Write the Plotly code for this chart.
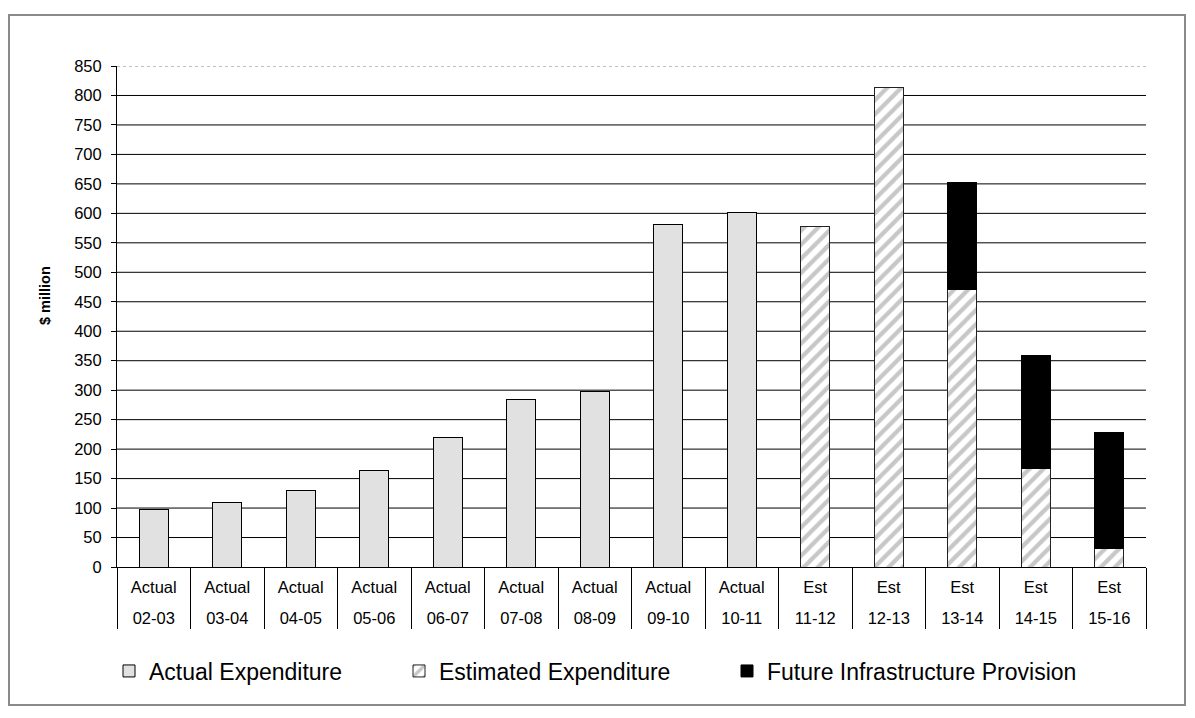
import plotly.graph_objects as go

# Financial years and expenditure type for each bar
years = ["02-03", "03-04", "04-05", "05-06", "06-07", "07-08", "08-09",
         "09-10", "10-11", "11-12", "12-13", "13-14", "14-15", "15-16"]
kinds = ["Actual"] * 9 + ["Est"] * 5

# $ million
actual = [98, 110, 129, 164, 220, 284, 298, 581, 602,
          None, None, None, None, None]
estimated = [None] * 9 + [577, 814, 471, 167, 31]
future = [None] * 11 + [181, 191, 198]

y_ticks = list(range(0, 851, 50))

FONT = "Liberation Sans"
W, H = 1195, 718
L, R, T, B = 117, 49, 66, 151
PW, PH = W - L - R, H - T - B


def px_x(px):
    return (px - L) / PW


def px_y(py):
    return (H - B - py) / PH


fig = go.Figure()
fig.add_trace(go.Bar(
    name="Actual Expenditure", x=years, y=actual,
    marker=dict(color="#e1e1e1", line=dict(color="black", width=1)),
    legend="legend",
))
fig.add_trace(go.Bar(
    name="Estimated Expenditure", x=years, y=estimated,
    marker=dict(color="white",
                pattern=dict(shape="/", fgcolor="#8f8f8f", bgcolor="white",
                             size=10, solidity=0.42),
                line=dict(color="#222222", width=1)),
    legend="legend2",
))
fig.add_trace(go.Bar(
    name="Future Infrastructure Provision", x=years, y=future,
    marker=dict(color="black", line=dict(color="black", width=1)),
    legend="legend3",
))
# empty trace that attaches the year-label axis to the plot
fig.add_trace(go.Scatter(x=[None], y=[None], xaxis="x2", yaxis="y",
                         mode="markers", showlegend=False, hoverinfo="skip"))

# horizontal gridlines; the top one is dotted
shapes = []
for v in y_ticks[1:-1]:
    shapes.append(dict(type="line", xref="paper", x0=0, x1=1, yref="y",
                       y0=v, y1=v, line=dict(color="black", width=1),
                       layer="below"))
shapes.append(dict(type="line", xref="paper", x0=0, x1=1, yref="y",
                   y0=y_ticks[-1], y1=y_ticks[-1],
                   line=dict(color="#808080", width=1, dash="dot"),
                   layer="below"))
# outer chart frame
shapes.append(dict(type="rect", xref="paper", yref="paper",
                   x0=px_x(9), x1=px_x(1185), y0=px_y(705), y1=px_y(15),
                   line=dict(color="#8a8a8a", width=2), layer="below"))

legend_common = dict(orientation="h", yanchor="middle", y=px_y(671),
                     xanchor="left", font=dict(family=FONT, size=23, color="black"),
                     itemwidth=30, bgcolor="rgba(0,0,0,0)")

n = len(years)
fig.update_layout(
    width=W, height=H, autosize=False,
    margin=dict(l=L, r=R, t=T, b=B),
    paper_bgcolor="white", plot_bgcolor="white",
    barmode="stack", bargap=0.605,
    font=dict(family=FONT, color="black"),
    shapes=shapes,
    showlegend=True,
    # upper label row: expenditure type
    xaxis=dict(type="category", categoryorder="array", categoryarray=years,
               range=[-0.5, n - 0.5], showline=True, linecolor="black",
               linewidth=1, showgrid=False, ticks="", tickmode="array",
               tickvals=years, ticktext=kinds,
               tickfont=dict(size=16.5, family=FONT), ticklabelstandoff=5,
               fixedrange=True),
    # lower label row: year, plus the column dividers
    xaxis2=dict(overlaying="x", anchor="y", side="bottom", type="linear",
                range=[-0.5, n - 0.5], tickmode="array",
                tickvals=list(range(n)), ticktext=years, ticks="",
                showline=False, showgrid=False, zeroline=False,
                tickfont=dict(size=16.5, family=FONT), ticklabelstandoff=39,
                minor=dict(tickmode="array",
                           tickvals=[i - 0.5 for i in range(n + 1)],
                           ticks="outside", ticklen=61, tickcolor="black",
                           tickwidth=1, showgrid=False),
                fixedrange=True),
    yaxis=dict(range=[0, 850], tickmode="array", tickvals=y_ticks,
               showgrid=False, zeroline=False, showline=True,
               linecolor="black", linewidth=1, ticks="outside", ticklen=5,
               tickcolor="black", tickfont=dict(size=16.5, family=FONT),
               ticklabelstandoff=6, fixedrange=True),
    legend=dict(x=px_x(109), **legend_common),
    legend2=dict(x=px_x(399), **legend_common),
    legend3=dict(x=px_x(727), **legend_common),
    annotations=[dict(text="<b>$ million</b>", xref="paper", yref="paper",
                      x=px_x(45), y=px_y(296), xanchor="center",
                      yanchor="middle", textangle=-90,
                      showarrow=False, font=dict(family=FONT, size=14.5,
                                                 color="black"))],
)

fig.write_html("out.html")
